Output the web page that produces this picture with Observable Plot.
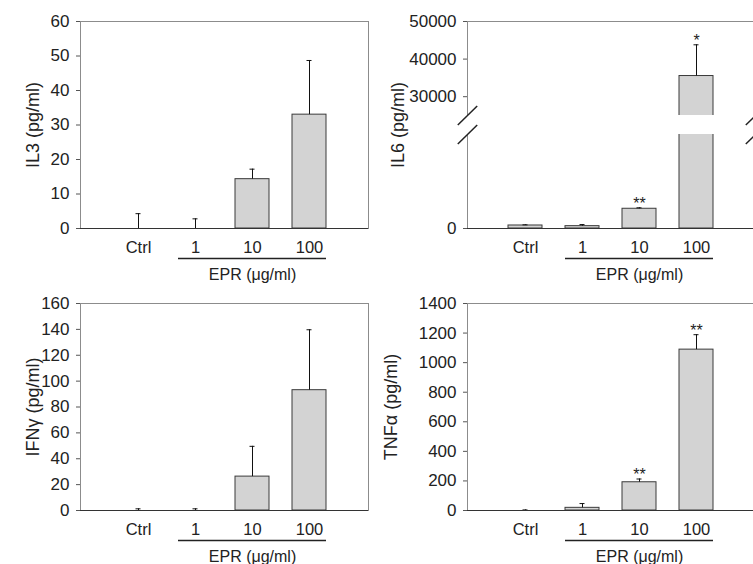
<!DOCTYPE html>
<html><head><meta charset="utf-8">
<script src="https://cdn.jsdelivr.net/npm/d3@7"></script>
<script src="https://cdn.jsdelivr.net/npm/@observablehq/plot@0.6"></script>
<style>
body{margin:0;background:#fff;}
#wrap{position:relative;width:753px;height:564px;overflow:hidden;background:#fff;}
#wrap svg{position:absolute;overflow:visible;}
</style></head><body><div id="wrap"></div>
<script>
const categories = ["Ctrl", "1", "10", "100"];
const groupLabel = "EPR (μg/ml)";

const il3 = [0, 0, 14.3, 33.0];
const il3Err = [4.3, 2.8, 2.9, 15.7];
const il3Ticks = [0, 10, 20, 30, 40, 50, 60];

const il6 = [320, 250, 2100, 35500];
const il6Err = [70, 170, 100, 8300];
const il6Stars = ["", "", "**", "*"];
const il6Ticks = [0, 30000, 40000, 50000];
const il6Lower = [0, 10000];
const il6Upper = [25000, 50000];

const ifng = [0, 0, 26.2, 93.0];
const ifngErr = [1.3, 1.3, 23.4, 46.7];
const ifngTicks = [0, 20, 40, 60, 80, 100, 120, 140, 160];

const tnfa = [0, 18, 191, 1088];
const tnfaErr = [4, 29, 22, 101];
const tnfaStars = ["", "", "**", "**"];
const tnfaTicks = [0, 200, 400, 600, 800, 1000, 1200, 1400];

const FONT = "'Liberation Sans', Arial, Helvetica, sans-serif";
const H = 282, MT = 21, MB = 54, PW = 288, MR = 8;
const BREAK_TOP = 115, BREAK_BOTTOM = 134;

const slash = {draw(ctx) { ctx.moveTo(-9.7, 9.5); ctx.lineTo(9.7, -9.5); }};
const wrap = document.getElementById("wrap");

function rows(values, errors, stars) {
  return categories.map((c, i) => ({c, v: values[i], e: values[i] + errors[i], s: stars ? stars[i] : ""}));
}

function dataMarks(data, clip, domain) {
  const starred = data.filter(d => d.s && (!domain || (d.e >= domain[0] && d.e <= domain[1])));
  return [
    Plot.barY(data, {x: "c", y: "v", fill: "#d3d3d3", stroke: "#3a3a3a", strokeWidth: 1, clip}),
    Plot.ruleX(data, {x: "c", y1: "v", y2: "e", stroke: "#111", clip}),
    Plot.tickY(data, {x: "c", y: "e", stroke: "#111", inset: 14.5, clip}),
    Plot.text(starred, {x: "c", y: "e", text: "s", lineAnchor: "bottom", dy: 1, fontSize: 16, fill: "#222"})
  ];
}

function bottomMarks(label, labelDx, labelDy, anchor) {
  return [
    Plot.ruleY([0], {stroke: "#333"}),
    Plot.axisX({tickSize: 0, tickPadding: 13, fontSize: 16.5, fill: "#222", label: null}),
    Plot.ruleY([{y: 0, a: "1", b: "100"}], {y: "y", x1: "a", x2: "b", dy: 30, stroke: "#222", strokeWidth: 1.3}),
    Plot.text([{x: "10", y: 0, t: groupLabel}], {x: "x", y: "y", text: "t", dy: 46, fontSize: 16, fill: "#222"}),
    Plot.text([label], {frameAnchor: anchor, textAnchor: "middle", text: d => d, rotate: -90, dx: labelDx, dy: labelDy, fontSize: 18, fill: "#222"})
  ];
}

function yAxis(ticks) {
  return Plot.axisY({ticks, tickSize: 4, tickPadding: 7, tickFormat: d => String(d), fontSize: 17, fill: "#222", stroke: "#555", label: null});
}

function mount(svg, left, top) {
  svg.style.left = left + "px";
  svg.style.top = top + "px";
  wrap.appendChild(svg);
}

const common = {
  height: H, marginRight: MR,
  style: {fontFamily: FONT, fontSize: "16px", background: "transparent", color: "#222"}
};
const xBand = {type: "band", domain: categories, paddingInner: 0.4, paddingOuter: 0.7};

function panel({values, errors, stars, label, ticks, domain, left, top, marginLeft, labelDx}) {
  const data = rows(values, errors, stars);
  const svg = Plot.plot({
    ...common, width: marginLeft + PW + MR, marginLeft, marginTop: MT, marginBottom: MB,
    x: xBand,
    y: {domain},
    marks: [
      Plot.frame({stroke: "#8c8c8c"}),
      ...dataMarks(data, false, null),
      yAxis(ticks),
      ...bottomMarks(label, labelDx, 0, "left")
    ]
  });
  mount(svg, left, top);
}

function brokenPanel({values, errors, stars, label, ticks, lower, upper, left, top, marginLeft, labelDx}) {
  const data = rows(values, errors, stars);
  const width = marginLeft + PW + MR;
  const lowerSvg = Plot.plot({
    ...common, width, marginLeft, marginTop: BREAK_BOTTOM, marginBottom: MB,
    x: xBand,
    y: {domain: lower},
    marks: [
      Plot.frame({anchor: "left", stroke: "#8c8c8c"}),
      Plot.frame({anchor: "right", stroke: "#8c8c8c"}),
      ...dataMarks(data, true, lower),
      yAxis(ticks.filter(t => t >= lower[0] && t <= lower[1])),
      ...bottomMarks(label, labelDx, -(BREAK_BOTTOM - BREAK_TOP) / 2, "top-left"),
      Plot.dot([lower[1]], {y: d => d, frameAnchor: "left", symbol: slash, fill: "none", stroke: "#222"}),
      Plot.dot([lower[1]], {y: d => d, frameAnchor: "right", symbol: slash, fill: "none", stroke: "#222"})
    ]
  });
  const upperSvg = Plot.plot({
    ...common, width, marginLeft, marginTop: MT, marginBottom: H - BREAK_TOP,
    x: {...xBand, axis: null},
    y: {domain: upper},
    marks: [
      Plot.frame({anchor: "top", stroke: "#8c8c8c"}),
      Plot.frame({anchor: "left", stroke: "#8c8c8c"}),
      Plot.frame({anchor: "right", stroke: "#8c8c8c"}),
      ...dataMarks(data, true, upper),
      yAxis(ticks.filter(t => t >= upper[0] && t <= upper[1])),
      Plot.dot([upper[0]], {y: d => d, frameAnchor: "left", symbol: slash, fill: "none", stroke: "#222"}),
      Plot.dot([upper[0]], {y: d => d, frameAnchor: "right", symbol: slash, fill: "none", stroke: "#222"})
    ]
  });
  mount(lowerSvg, left, top);
  mount(upperSvg, left, top);
}

panel({values: il3, errors: il3Err, label: "IL3 (pg/ml)", ticks: il3Ticks, domain: [0, 60], left: 0, top: 0, marginLeft: 80, labelDx: -47});
brokenPanel({values: il6, errors: il6Err, stars: il6Stars, label: "IL6 (pg/ml)", ticks: il6Ticks, lower: il6Lower, upper: il6Upper,
  left: 376, top: 0, marginLeft: 91, labelDx: -76});
panel({values: ifng, errors: ifngErr, label: "IFNγ (pg/ml)", ticks: ifngTicks, domain: [0, 160], left: 0, top: 282, marginLeft: 80, labelDx: -47});
panel({values: tnfa, errors: tnfaErr, stars: tnfaStars, label: "TNFα (pg/ml)", ticks: tnfaTicks, domain: [0, 1400], left: 376, top: 282, marginLeft: 91, labelDx: -76});
</script></body></html>
